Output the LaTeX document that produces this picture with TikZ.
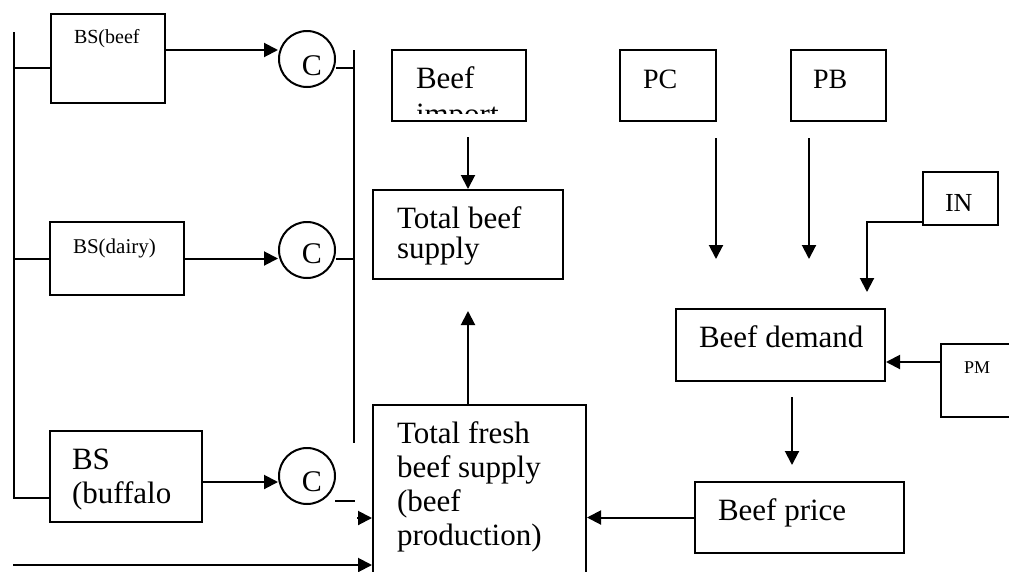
\documentclass[tikz,border=0pt]{standalone}
\usepackage{fontspec}
\setmainfont{Liberation Serif}
\usetikzlibrary{arrows.meta,calc}
\begin{document}
\begin{tikzpicture}[x=1pt,y=-1pt,
  line width=2pt,
  box/.style={draw, rectangle, inner sep=0pt},
  circ/.style={draw, circle, inner sep=0pt, minimum size=56pt},
  arr/.style={-{Triangle[length=14pt,width=14pt]}},
  lbl/.style={anchor=base west, inner sep=0pt},
  f31/.style={font=\fontsize{31}{31}\selectfont},
  f30/.style={font=\fontsize{30}{30}\selectfont},
  f28/.style={font=\fontsize{28}{28}\selectfont},
  f26/.style={font=\fontsize{26}{26}\selectfont},
  f21/.style={font=\fontsize{21}{21}\selectfont},
  f20/.style={font=\fontsize{20}{20}\selectfont},
  f18/.style={font=\fontsize{18}{18}\selectfont},
]
\useasboundingbox (0,0) rectangle (1009,571);

% ---------- boxes ----------
\node[box, minimum width=114pt, minimum height=89pt] (bsbeef)  at (108,58.5) {};
\node[box, minimum width=134pt, minimum height=73pt] (bsdairy) at (117,258.5) {};
\node[box, minimum width=152pt, minimum height=91pt] (bsbuf)   at (126,476.5) {};
\node[circ] (c1) at (307,59) {};
\node[circ] (c2) at (307,250) {};
\node[circ] (c3) at (307,476) {};
\node[box, minimum width=134pt, minimum height=71pt] (import) at (459,85.5) {};
\node[box, minimum width=190pt, minimum height=89pt] (tbs)    at (468,234.5) {};
\node[box, minimum width=213pt, minimum height=185pt] (tf)    at (479.5,497.5) {};
\node[box, minimum width=96pt, minimum height=71pt] (pc)      at (668,85.5) {};
\node[box, minimum width=95pt, minimum height=71pt] (pb)      at (838.5,85.5) {};
\node[box, minimum width=75pt, minimum height=53pt] (in)      at (960.5,198.5) {};
\node[box, minimum width=209pt, minimum height=72pt] (demand) at (780.5,345) {};
\node[box, minimum width=78pt, minimum height=73pt] (pm)      at (980,380.5) {};
\node[box, minimum width=209pt, minimum height=71pt] (price)  at (799.5,517.5) {};

% ---------- texts ----------
\node[lbl,f20] (tbsbeef) at (73,43) {BS(beef};
\node[lbl,f21] (tbsdairy) at (72,253) {BS(dairy)};
\node[lbl,f31] (tbsbuf1) at (71,469) {BS};
\node[lbl,f31] (tbsbuf2) at (71,503) {(buffalo};
\node[anchor=base, inner sep=0pt, f30] (tc1) at ([shift={(5pt,-16pt)}]c1.center) {C};
\node[anchor=base, inner sep=0pt, f30] (tc2) at ([shift={(5pt,-13pt)}]c2.center) {C};
\node[anchor=base, inner sep=0pt, f30] (tc3) at ([shift={(5pt,-15pt)}]c3.center) {C};
\node[lbl,f31] (timp1) at (415,88) {Beef};
\begin{scope}
  \clip (392,50) rectangle (526,113);
  \node[lbl,f31] (timp2) at (415,124) {import};
\end{scope}
\node[lbl,f31] (ttbs1) at (396,228) {Total beef};
\node[lbl,f31] (ttbs2) at (396,258) {supply};
\node[lbl,f31] (ttf1) at (396,443) {Total fresh};
\node[lbl,f31] (ttf2) at (396,477) {beef supply};
\node[lbl,f31] (ttf3) at (396,511) {(beef};
\node[lbl,f31] (ttf4) at (396,545) {production)};
\node[lbl,f28] (tpc) at (642,88) {PC};
\node[lbl,f28] (tpb) at (812,88) {PB};
\node[lbl,f26] (tin) at (944,211) {IN};
\node[lbl,f31] (tdem) at (698,347) {Beef demand};
\node[lbl,f18] (tpm) at (963,373) {PM};
\node[lbl,f31] (tprice) at (717,520) {Beef price};

% ---------- free ends ----------
\coordinate (ltop) at (14,32);
\coordinate (rtop) at (354,50);
\coordinate (rbot) at (354,443);
\coordinate (d1) at (335,501);
\coordinate (d2) at (355,501);
\coordinate (a3) at (357,518);
\coordinate (a4) at (13,565);

% ---------- connectors ----------
% left bus
\draw (ltop) |- ([yshift=-21.5pt]bsbuf.west);
\draw ([yshift=-9.5pt]bsbeef.west) -- ([yshift=-9.5pt]bsbeef.west -| ltop);
\draw (bsdairy.west) -- (bsdairy.west -| ltop);
% boxes to circles
\draw[arr] ([yshift=8.5pt]bsbeef.east) -- ([yshift=8.5pt]bsbeef.east -| c1.west);
\draw[arr] (bsdairy.east) -- (bsdairy.east -| c2.west);
\draw[arr] ([yshift=-5.5pt]bsbuf.east) -- ([yshift=-5.5pt]bsbuf.east -| c3.west);
% right bus
\draw (rtop) -- (rbot);
\draw ([yshift=-9pt]c1.east) -- ([yshift=-9pt]c1.east -| rtop);
\draw ([yshift=-9pt]c2.east) -- ([yshift=-9pt]c2.east -| rtop);
\draw (d1) -- (d2);
% into total fresh
\draw[arr] (a3) -- (a3 -| tf.west);
\draw[arr] (a4) -- (a4 -| tf.west);
% total fresh up to total beef supply
\draw[arr, shorten >=31pt] (tf.north -| tbs.south) -- (tbs.south);
% import to total beef supply
\draw[arr, shorten <=15pt] (import.south -| tbs.north) -- (tbs.north);
% PC, PB down
\draw[arr, shorten <=16pt, shorten >=49pt] ([xshift=-1pt]pc.south east) -- ([xshift=-1pt]pc.south east |- demand.north);
\draw[arr, shorten <=16pt, shorten >=49pt] ([xshift=-29.5pt]pb.south) -- ([xshift=-29.5pt]pb.south |- demand.north);
% IN to demand
\draw[arr, shorten >=16pt] ([yshift=-23.5pt]in.west) -| ([xshift=86.5pt]demand.north);
% PM to demand
\draw[arr] ([yshift=18.5pt]pm.west) -- ([yshift=18.5pt]pm.west -| demand.east);
% demand to price
\draw[arr, shorten <=15pt, shorten >=16pt] ([xshift=11.5pt]demand.south) -- ([xshift=11.5pt]demand.south |- price.north);
% price to total fresh
\draw[arr] (price.west) -- (price.west -| tf.east);
\end{tikzpicture}
\end{document}
